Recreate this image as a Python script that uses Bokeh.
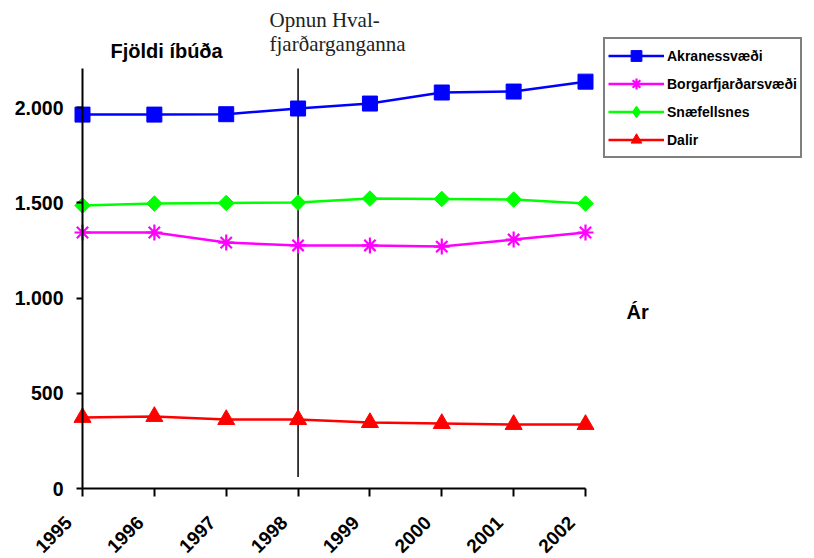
import math
from bokeh.plotting import figure
from bokeh.models import (LinearAxis, FixedTicker, Range1d, Legend, LegendItem,
                          Label, ColumnDataSource)
from bokeh.core.properties import value
from bokeh.embed import file_html
from bokeh.resources import INLINE

# ---- data ----
years = [1995, 1996, 1997, 1998, 1999, 2000, 2001, 2002]
akranes = [1963, 1963, 1965, 1995, 2021, 2079, 2084, 2136]
borgarfjordur = [1344, 1344, 1291, 1276, 1276, 1270, 1307, 1344]
snaefellsnes = [1486, 1496, 1499, 1501, 1522, 1520, 1517, 1496]
dalir = [373, 378, 362, 362, 346, 341, 336, 336]
series_names = ["Akranessvæði", "Borgarfjarðarsvæði", "Snæfellsnes", "Dalir"]
y_ticks = [0, 500, 1000, 1500, 2000]
y_tick_labels = ["0", "500", "1.000", "1.500", "2.000"]
x_tick_labels = [str(y) for y in years]
event_year = 1998
event_text_1 = "Opnun Hval-"
event_text_2 = "fjarðarganganna"
y_title = "Fjöldi íbúða"
x_title = "Ár"

# ---- layout (frame covers the whole canvas) ----
W, H = 806, 556
px_per_year = 503 / 7.0
y_top = 2205
px_per_unit = 420 / y_top
x_start = years[0] - 82 / px_per_year
x_end = x_start + W / px_per_year
y_start = -(H - 488) / px_per_unit
y_end = y_top + 68 / px_per_unit

p = figure(width=W, height=H, output_backend="svg", toolbar_location=None,
           x_range=Range1d(x_start, x_end), y_range=Range1d(y_start, y_end),
           x_axis_location=None, y_axis_location=None,
           min_border=0, min_border_left=0, min_border_right=0,
           min_border_top=0, min_border_bottom=0, outline_line_color=None,
           background_fill_color="white", border_fill_color="white")
p.grid.visible = False

FONT = "Liberation Sans"

yaxis = LinearAxis(fixed_location=years[0], ticker=FixedTicker(ticks=y_ticks),
                   major_label_overrides={t: l for t, l in zip(y_ticks, y_tick_labels)})
yaxis.bounds = (0, y_top)
yaxis.axis_line_width = 2
yaxis.axis_line_color = "black"
yaxis.major_tick_line_width = 2
yaxis.major_tick_out = 6
yaxis.major_tick_in = 0
yaxis.minor_tick_out = 0
yaxis.minor_tick_in = 0
yaxis.major_label_standoff = 13
yaxis.major_label_text_font = FONT
yaxis.major_label_text_font_style = "bold"
yaxis.major_label_text_font_size = "19.5px"
yaxis.major_label_text_color = "black"
p.add_layout(yaxis, "left")

xaxis = LinearAxis(fixed_location=0, ticker=FixedTicker(ticks=years))
xaxis.bounds = (years[0], years[-1])
xaxis.axis_line_width = 2
xaxis.axis_line_color = "black"
xaxis.major_tick_line_width = 2
xaxis.major_tick_out = 8
xaxis.major_tick_in = 0
xaxis.minor_tick_out = 0
xaxis.minor_tick_in = 0
xaxis.major_label_text_font_size = "0px"
xaxis.major_label_text_color = None
p.add_layout(xaxis, "below")

# rotated year labels, placed like the original (below-left of each tick)
p.text(x=years, y=[0] * len(years), text=x_tick_labels, angle=math.pi / 4,
       text_align="right", text_baseline="middle", x_offset=-14, y_offset=31,
       text_font=value(FONT), text_font_style="bold", text_font_size="19px",
       text_color="black")

# event line
p.segment(x0=[event_year], y0=[60], x1=[event_year], y1=[y_top],
          line_color="black", line_width=1.5)

specs = [
    (akranes, "#0000FF", "square", 15, 0.0, "square"),
    (borgarfjordur, "#FF00FF", "asterisk", 16, 0.0, "asterisk"),
    (snaefellsnes, "#00FF00", "square", 11, math.pi / 4, "diamond"),
    (dalir, "#FF0000", "triangle", 17, 0.0, "triangle"),
]
items = []
for name, (vals, color, marker, size, ang, leg_marker) in zip(series_names, specs):
    src = ColumnDataSource(dict(x=years, y=vals))
    lr = p.line("x", "y", source=src, line_color=color, line_width=2.5)
    if marker == "asterisk":
        mr = p.scatter("x", "y", source=src, marker=marker, size=size,
                       line_color=color, line_width=2.2)
    else:
        mr = p.scatter("x", "y", source=src, marker=marker, size=size, angle=ang,
                       fill_color=color, line_color=color, line_width=1)
    if leg_marker != marker:
        # legend-only glyph (its single point is NaN, so nothing is drawn in the plot)
        nan_src = ColumnDataSource(dict(x=[float("nan")], y=[float("nan")]))
        mr = p.scatter("x", "y", source=nan_src, marker=leg_marker, size=size,
                       fill_color=color, line_color=color, line_width=1.5)
    items.append(LegendItem(label=name, renderers=[lr, mr]))

legend = Legend(items=items, location=(603, H - 158))
legend.border_line_color = "black"
legend.border_line_width = 2
legend.background_fill_color = "white"
legend.background_fill_alpha = 1
legend.padding = 3
legend.spacing = 1
legend.margin = 0
legend.glyph_width = 56
legend.glyph_height = 27
legend.label_height = 27
legend.label_standoff = 3
legend.label_text_font = FONT
legend.label_text_font_style = "bold"
legend.label_text_font_size = "14px"
legend.label_text_color = "black"
p.add_layout(legend)


def xd(page_x):
    return years[0] + (page_x - 82) / px_per_year


def yd(page_y):
    return (488 - page_y) / px_per_unit


p.add_layout(Label(x=xd(110), y=yd(50), text=y_title, text_font=FONT,
                   text_font_style="bold", text_font_size="20px",
                   text_baseline="middle", text_align="left", text_color="black"))
p.add_layout(Label(x=xd(626), y=yd(311), text=x_title, text_font=FONT,
                   text_font_style="bold", text_font_size="20px",
                   text_baseline="middle", text_align="left", text_color="black"))
p.add_layout(Label(x=xd(269), y=yd(19), text=event_text_1, text_font="Liberation Serif",
                   text_font_size="21px", text_baseline="middle", text_align="left",
                   text_color="#222222"))
p.add_layout(Label(x=xd(269), y=yd(43), text=event_text_2, text_font="Liberation Serif",
                   text_font_size="21px", text_baseline="middle", text_align="left",
                   text_color="#222222"))

open("out.html", "w").write(file_html(p, INLINE))
